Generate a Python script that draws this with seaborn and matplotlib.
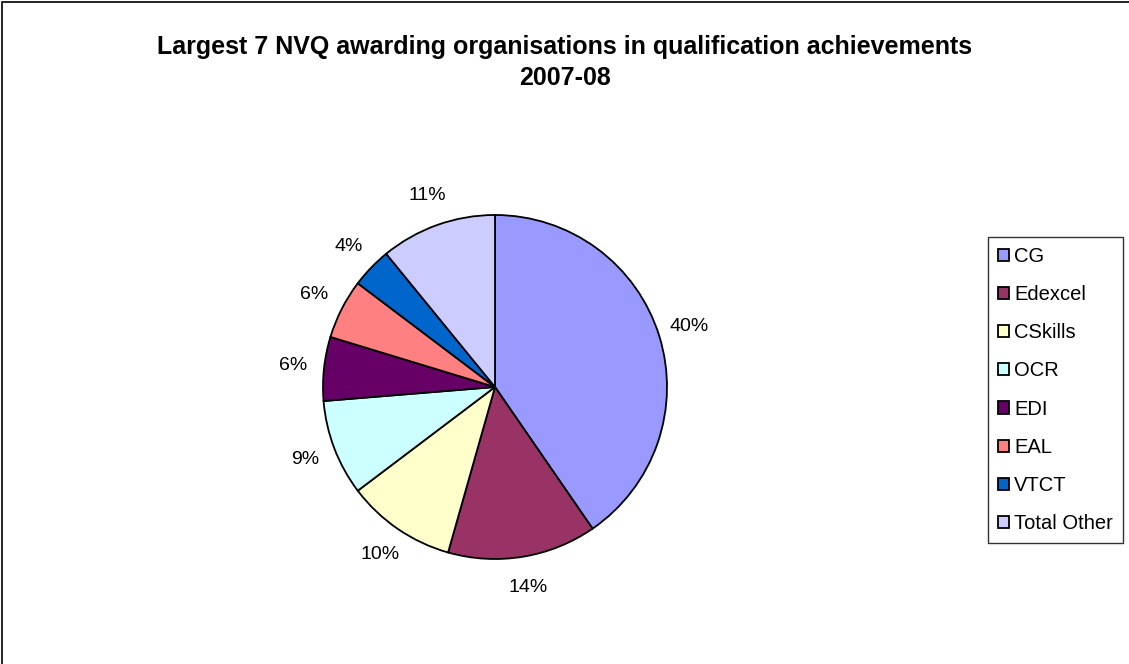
import matplotlib
matplotlib.use("Agg")
import matplotlib.pyplot as plt
import seaborn as sns
from matplotlib.patches import Rectangle

sns.set_theme(style="white")
plt.rcParams['font.family'] = ['Liberation Sans', 'DejaVu Sans']
plt.rcParams['text.color'] = 'black'

# data (shares of achievements, %)
organisations = ['CG', 'Edexcel', 'CSkills', 'OCR', 'EDI', 'EAL', 'VTCT', 'Total Other']
shares = [40.4, 14.0, 10.3, 9.0, 6.0, 5.6, 3.8, 10.9]
colours = ['#9999FF', '#993366', '#FFFFCC', '#CCFFFF', '#660066', '#FF8080', '#0066CC', '#CCCCFF']

fig = plt.figure(figsize=(11.29, 6.64), dpi=100)
fig.patch.set_facecolor('white')

# outer chart frame (left/top visible, right/bottom run off the image)
fig.patches.append(Rectangle((0.002, -0.05), 1.1, 1.047, transform=fig.transFigure,
                             fill=False, edgecolor='black', linewidth=1.2))

# pie axes: centre (495, 387) px, radius ~172 px
r_px = 172
cx, cy = 495, 387
ax = fig.add_axes([(cx - r_px) / 1129, 1 - (cy + r_px) / 664, 2 * r_px / 1129, 2 * r_px / 664])

wedges, texts, autotexts = ax.pie(
    shares, colors=colours, startangle=90, counterclock=False,
    autopct='%.0f%%', pctdistance=1.18,
    wedgeprops=dict(edgecolor='black', linewidth=1.3),
    textprops=dict(fontsize=14, color='black'),
)
ax.set_aspect('equal')
ax.set_xlim(-1, 1)
ax.set_ylim(-1, 1)
ax.axis('off')

fig.text(0.5, 1 - 47 / 664, 'Largest 7 NVQ awarding organisations in qualification achievements',
         ha='center', va='center', fontsize=18, fontweight='bold')
fig.text(0.5, 1 - 78 / 664, '2007-08', ha='center', va='center', fontsize=18, fontweight='bold')

leg = fig.legend(wedges, organisations, loc='upper left',
                 bbox_to_anchor=(988 / 1129, 1 - 237 / 664),
                 prop=dict(size=14.5), frameon=True, fancybox=False, shadow=False,
                 handlelength=0.55, handleheight=0.55, handletextpad=0.25,
                 labelspacing=0.95, borderpad=0.5, borderaxespad=0)
leg.get_frame().set_edgecolor('black')
leg.get_frame().set_linewidth(1.0)
for h in leg.legend_handles:
    h.set_linewidth(1.3)

fig.savefig('out.png', dpi=100)
